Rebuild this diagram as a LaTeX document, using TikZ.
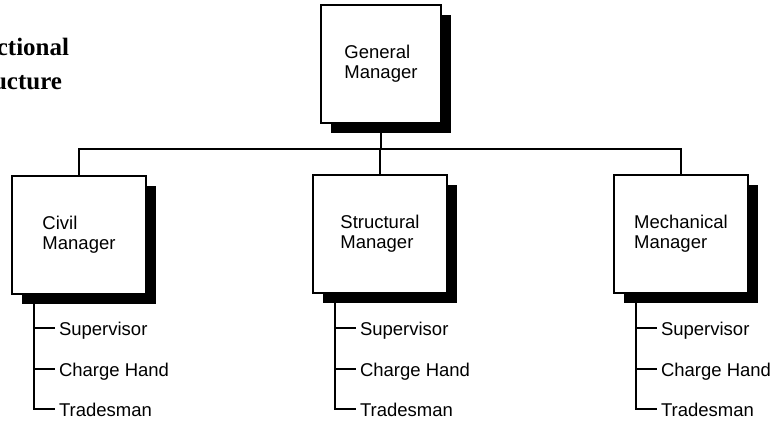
\documentclass[tikz,border=0pt]{standalone}
\usepackage{fontspec}
\setmainfont{Liberation Sans}
\newfontfamily\titlefont{Liberation Serif}
\usetikzlibrary{shadows}
\begin{document}
\begin{tikzpicture}[x=1pt,y=-1pt,
  line width=1.9pt,
  manager/.style={draw=black, fill=white, line width=1.9pt,
    minimum width=134pt, minimum height=118pt, inner sep=0pt,
    align=left, font=\fontsize{18.5}{20}\selectfont,
    drop shadow={shadow xshift=10pt, shadow yshift=-10pt, opacity=1, fill=black}},
  staff/.style={anchor=west, inner xsep=3pt, inner ysep=0pt,
    text height=14pt, text depth=0pt, font=\fontsize{18.5}{20}\selectfont},
  heading/.style={anchor=base east, inner sep=0pt,
    font=\titlefont\bfseries\fontsize{25}{28}\selectfont}]
\useasboundingbox (0,0) rectangle (779,421);
\clip (0,0) rectangle (779,421);

% heading, running off the left edge of the page
\node[heading] (h1) at (70,55) {Functional};
\node[heading] (h2) at (63,89) {Structure};

% managers
\node[manager, minimum width=120pt] (gm) at (381,64) {General\\Manager};
\node[manager] (civ) at (79,235) {Civil\\Manager};
\node[manager] (str) at (380,234) {Structural\\Manager};
\node[manager] (mec) at (681,234) {Mechanical\\Manager};

% reporting lines
\coordinate (bus) at (0,149);
\draw (gm.south) -- (gm.south |- bus);
\draw (civ.north) |- (mec.north |- bus) -- (mec.north);
\draw (str.north) -- (str.north |- bus);

% staff under each manager
\foreach \m in {civ,str,mec}{
  \node[staff] (\m-s) at ([xshift=44pt]\m.south west |- 0,328) {Supervisor};
  \node[staff] (\m-c) at ([xshift=44pt]\m.south west |- 0,369) {Charge Hand};
  \node[staff] (\m-t) at ([xshift=44pt]\m.south west |- 0,409) {Tradesman};
  \coordinate (\m-top) at ([xshift=23pt]\m.south west);
  \draw (\m-top) |- (\m-t.west);
  \draw (\m-top |- \m-s.west) -- (\m-s.west);
  \draw (\m-top |- \m-c.west) -- (\m-c.west);
}
\end{tikzpicture}
\end{document}
